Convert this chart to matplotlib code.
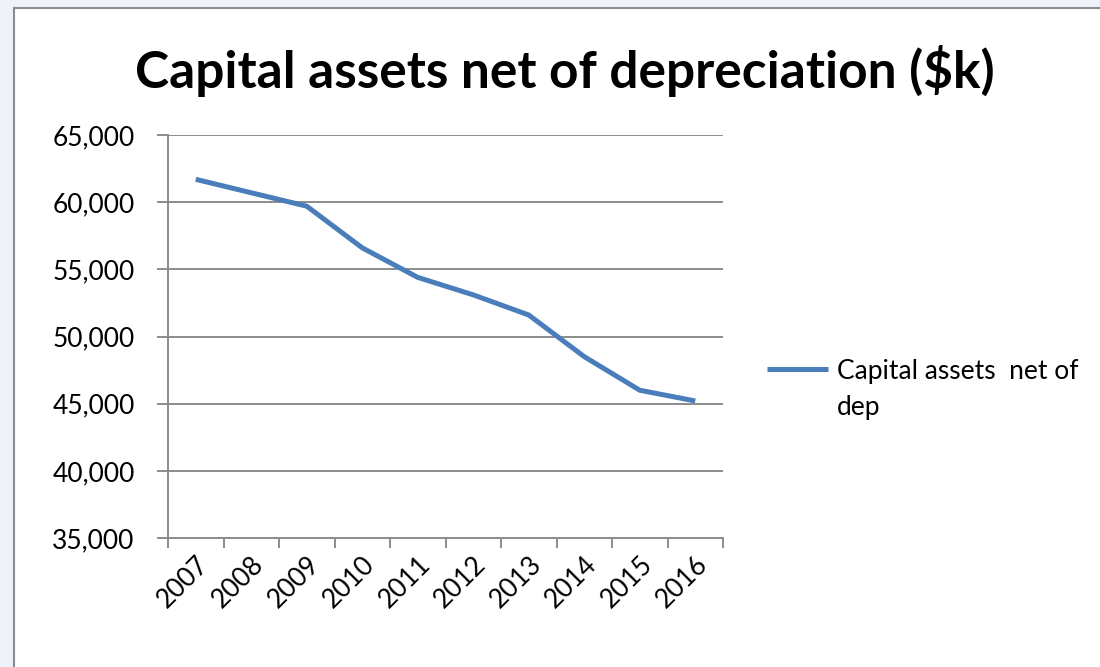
import matplotlib
matplotlib.use('Agg')
import matplotlib.pyplot as plt
from matplotlib.patches import Rectangle
from matplotlib.lines import Line2D

# данные
years = ['2007', '2008', '2009', '2010', '2011', '2012', '2013', '2014', '2015', '2016']
values = [61700, 60700, 59700, 56600, 54400, 53100, 51600, 48500, 46000, 45200]
y_ticks = [35000, 40000, 45000, 50000, 55000, 60000, 65000]
series_name = ['Capital assets  net of', 'dep']

plt.rcParams['font.family'] = ['Lato', 'DejaVu Sans']

fig = plt.figure(figsize=(11, 6.67), dpi=100)
fig.patch.set_facecolor('#eef3f9')

# рамка области диаграммы
frame = Rectangle((14 / 1100, -0.05), 1.1, 1 - 8 / 667 + 0.05,
                  transform=fig.transFigure, facecolor='white',
                  edgecolor='#8c8c8c', linewidth=1.5, zorder=0)
fig.add_artist(frame)

ax = fig.add_axes([168 / 1100, 1 - 538 / 667, 555 / 1100, 403 / 667])
ax.set_facecolor('none')

x = list(range(len(years)))
line, = ax.plot(x, values, color='#4a7ebb', linewidth=3.6,
                solid_joinstyle='round', solid_capstyle='butt')

ax.set_xlim(-0.5, len(years) - 0.5)
ax.set_ylim(35000, 65000)
ax.set_yticks(y_ticks)
ax.set_yticklabels([f'{v:,}' for v in y_ticks])
ax.yaxis.grid(True, color='#8c8c8c', linewidth=1.4)
ax.set_axisbelow(True)

ax.set_xticks(x)
ax.set_xticklabels(years, rotation=45, ha='right', rotation_mode='anchor')
ax.set_xticks([i - 0.5 for i in range(len(years) + 1)], minor=True)
ax.tick_params(axis='x', which='major', length=0, pad=10, labelsize=19)
ax.tick_params(axis='x', which='minor', length=7, width=1.4, color='#8c8c8c')
ax.tick_params(axis='y', length=8, width=1.4, color='#8c8c8c', pad=16,
               labelsize=19)

for side in ['top', 'right']:
    ax.spines[side].set_visible(False)
for side in ['left', 'bottom']:
    ax.spines[side].set_color('#8c8c8c')
    ax.spines[side].set_linewidth(1.4)

fig.text(0.5136, 0.893, 'Capital assets net of depreciation ($k)',
         ha='center', va='center', fontsize=37, fontweight='bold')

# легенда: вторая строка подписи без линии
blank = Line2D([], [], linestyle='none')
ax.legend([line, blank], series_name, loc='upper left',
          bbox_to_anchor=(1.08, 0.445), frameon=False,
          fontsize=19, handlelength=2.3, handletextpad=0.35,
          labelspacing=0.42, borderaxespad=0, borderpad=0)

fig.savefig('out.png', dpi=100, facecolor=fig.get_facecolor())
